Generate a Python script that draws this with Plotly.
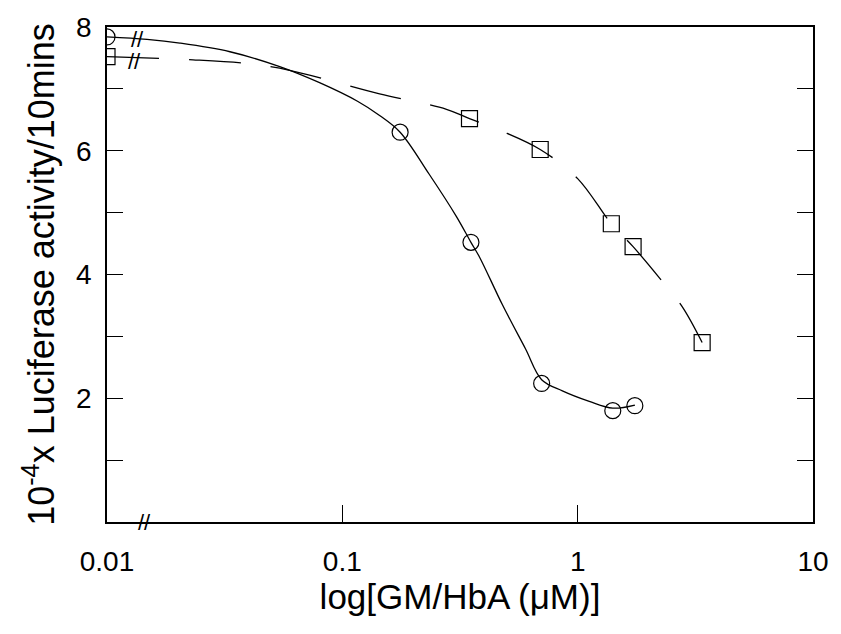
import math
import plotly.graph_objects as go

# Data points
circle_x = [0.01, 0.176, 0.352, 0.703, 1.41, 1.75]
circle_y = [7.84, 6.30, 4.52, 2.24, 1.80, 1.88]
square_x = [0.01, 0.347, 0.693, 1.39, 1.72, 3.38]
square_y = [7.52, 6.52, 6.02, 4.82, 4.45, 2.90]

# Fitted curves as drawn in the picture
solid_curve_x = [0.01, 0.0148, 0.0204, 0.0333, 0.0542, 0.08, 0.116, 0.144, 0.176,
                 0.234, 0.305, 0.352, 0.383, 0.479, 0.60, 0.703, 0.861, 1.12, 1.41, 1.75]
solid_curve_y = [7.84, 7.80, 7.74, 7.60, 7.36, 7.10, 6.80, 6.57, 6.30,
                 5.62, 4.94, 4.52, 4.28, 3.51, 2.80, 2.30, 2.12, 1.95, 1.84, 1.89]
dashed_curve_x = [0.01, 0.0232, 0.0393, 0.0597, 0.144, 0.277, 0.347, 0.474,
                  0.693, 1.0, 1.39, 1.72, 2.22, 2.78, 3.38]
dashed_curve_y = [7.52, 7.47, 7.41, 7.30, 6.92, 6.67, 6.52, 6.32,
                  6.02, 5.55, 4.82, 4.45, 3.95, 3.48, 2.90]

x_tickvals = [0.01, 0.1, 1, 10]
x_ticktext = ["0.01", "0.1", "1", "10"]
y_tickvals = [2, 4, 6, 8]
y_ticktext = ["2", "4", "6", "8"]

# Axis-break marks: (x, y) in data units
break_marks = [(0.0135, 7.79), (0.0131, 7.45), (0.0145, 0.0)]

FONT = "Liberation Sans, Arial, sans-serif"

fig = go.Figure()
fig.add_trace(go.Scatter(x=solid_curve_x, y=solid_curve_y, mode="lines",
                         line=dict(color="black", width=1.3, shape="spline", smoothing=1),
                         hoverinfo="skip", showlegend=False))
fig.add_trace(go.Scatter(x=dashed_curve_x, y=dashed_curve_y, mode="lines",
                         line=dict(color="black", width=1.3, shape="spline", smoothing=1,
                                   dash="52px,30px"),
                         hoverinfo="skip", showlegend=False))
fig.add_trace(go.Scatter(x=circle_x, y=circle_y, mode="markers",
                         marker=dict(symbol="circle-open", size=16, color="black",
                                     line=dict(width=1.2, color="black")),
                         showlegend=False))
fig.add_trace(go.Scatter(x=square_x, y=square_y, mode="markers",
                         marker=dict(symbol="square-open", size=16, color="black",
                                     line=dict(width=1.2, color="black")),
                         showlegend=False))

for bx, by in break_marks:
    fig.add_annotation(x=math.log10(bx), y=by, xref="x", yref="y", text="//",
                       showarrow=False, font=dict(family=FONT, size=22, color="black"))

fig.update_layout(
    width=841, height=634,
    margin=dict(l=107, r=27, t=17, b=112),
    paper_bgcolor="white", plot_bgcolor="white",
    font=dict(family=FONT, color="black"),
    showlegend=False,
)
fig.update_xaxes(
    type="log", range=[-2, 1],
    tickmode="array", tickvals=x_tickvals, ticktext=x_ticktext,
    ticks="inside", ticklen=17, tickwidth=1.3, tickcolor="black",
    showline=True, linecolor="black", linewidth=1.5, mirror=True,
    showgrid=False, zeroline=False,
    tickfont=dict(family=FONT, size=28, color="black"),
    ticklabelstandoff=14,
    title=dict(text="log[GM/HbA (μM)]", font=dict(family=FONT, size=35, color="black"),
               standoff=4),
)
fig.update_yaxes(
    range=[0, 8],
    tickmode="array", tickvals=y_tickvals, ticktext=y_ticktext,
    ticks="inside", ticklen=16, tickwidth=1.3, tickcolor="black",
    minor=dict(ticks="inside", ticklen=16, tickwidth=1.3, tickcolor="black",
               tickmode="linear", tick0=1, dtick=2, showgrid=False),
    showline=True, linecolor="black", linewidth=1.5, mirror="ticks",
    showgrid=False, zeroline=False,
    tickfont=dict(family=FONT, size=28, color="black"),
    ticklabelstandoff=8,
    title=dict(text="10<sup>-4</sup>x Luciferase activity/10mins",
               font=dict(family=FONT, size=36, color="black"), standoff=10),
)

fig.write_html("out.html")
